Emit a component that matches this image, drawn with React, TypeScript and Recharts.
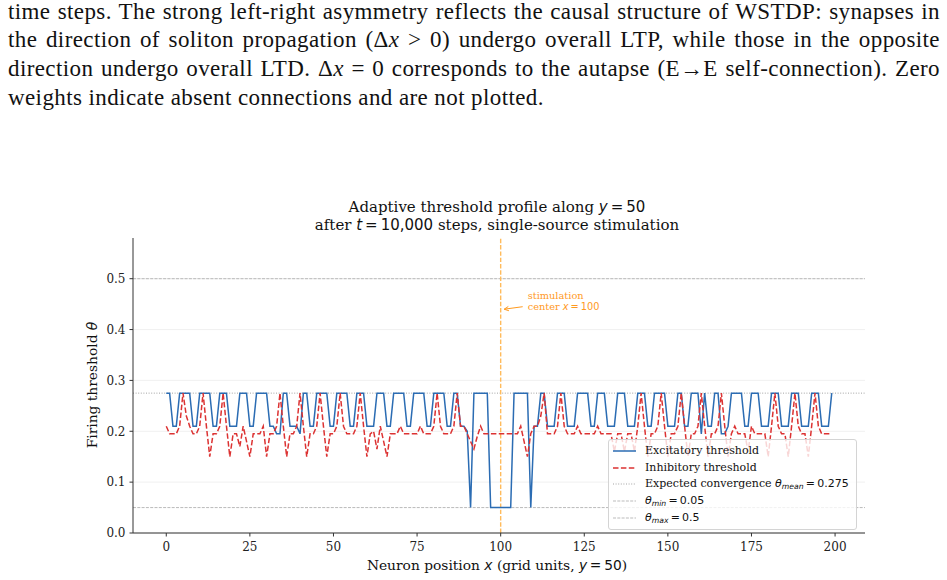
import React from 'react';
import {
  LineChart,
  Line,
  XAxis,
  YAxis,
  CartesianGrid,
  ReferenceLine,
  ReferenceDot,
} from 'recharts';

// Grid positions along the row y = 50
const positions: number[] = Array.from({ length: 200 }, (_, i) => i);

// Excitatory threshold per neuron
const excitatory: number[] = [
  0.275, 0.275, 0.21, 0.21, 0.275, 0.275, 0.275, 0.275, 0.21, 0.21,
  0.275, 0.275, 0.275, 0.275, 0.21, 0.21, 0.275, 0.275, 0.275, 0.21,
  0.21, 0.21, 0.275, 0.275, 0.275, 0.21, 0.21, 0.275, 0.275, 0.275,
  0.275, 0.21, 0.21, 0.195, 0.195, 0.275, 0.275, 0.21, 0.21, 0.21,
  0.195, 0.275, 0.275, 0.21, 0.21, 0.275, 0.275, 0.275, 0.275, 0.21,
  0.21, 0.275, 0.275, 0.275, 0.275, 0.21, 0.21, 0.275, 0.275, 0.275,
  0.21, 0.21, 0.21, 0.275, 0.275, 0.275, 0.21, 0.21, 0.275, 0.275,
  0.275, 0.275, 0.21, 0.21, 0.275, 0.275, 0.275, 0.275, 0.21, 0.21,
  0.275, 0.275, 0.275, 0.275, 0.21, 0.21, 0.275, 0.275, 0.21, 0.21,
  0.2, 0.05, 0.275, 0.275, 0.275, 0.275, 0.275, 0.05, 0.05, 0.05,
  0.05, 0.05, 0.05, 0.05, 0.275, 0.275, 0.275, 0.275, 0.275, 0.05,
  0.21, 0.21, 0.275, 0.275, 0.21, 0.21, 0.21, 0.275, 0.275, 0.275,
  0.21, 0.21, 0.21, 0.275, 0.275, 0.275, 0.275, 0.21, 0.21, 0.275,
  0.275, 0.275, 0.21, 0.21, 0.21, 0.275, 0.275, 0.275, 0.21, 0.21,
  0.21, 0.275, 0.275, 0.275, 0.21, 0.21, 0.275, 0.275, 0.275, 0.275,
  0.21, 0.21, 0.21, 0.275, 0.275, 0.21, 0.21, 0.275, 0.275, 0.275,
  0.195, 0.275, 0.21, 0.21, 0.275, 0.275, 0.195, 0.195, 0.21, 0.275,
  0.275, 0.275, 0.275, 0.21, 0.21, 0.275, 0.275, 0.275, 0.21, 0.21,
  0.21, 0.275, 0.275, 0.275, 0.21, 0.21, 0.21, 0.275, 0.275, 0.275,
  0.21, 0.21, 0.21, 0.275, 0.275, 0.275, 0.21, 0.21, 0.21, 0.275,
];

// Inhibitory threshold per neuron
const inhibitory: number[] = [
  0.21, 0.195, 0.195, 0.195, 0.21, 0.275, 0.23, 0.21, 0.195, 0.195,
  0.21, 0.275, 0.21, 0.15, 0.195, 0.195, 0.21, 0.275, 0.21, 0.15,
  0.195, 0.195, 0.17, 0.21, 0.18, 0.15, 0.195, 0.195, 0.195, 0.21,
  0.15, 0.195, 0.195, 0.21, 0.275, 0.21, 0.15, 0.195, 0.195, 0.21,
  0.275, 0.21, 0.15, 0.195, 0.195, 0.21, 0.275, 0.21, 0.15, 0.195,
  0.195, 0.21, 0.275, 0.21, 0.195, 0.195, 0.195, 0.21, 0.275, 0.21,
  0.15, 0.195, 0.2, 0.165, 0.21, 0.18, 0.15, 0.195, 0.195, 0.195,
  0.21, 0.195, 0.195, 0.195, 0.195, 0.195, 0.21, 0.195, 0.195, 0.195,
  0.21, 0.275, 0.21, 0.195, 0.195, 0.195, 0.21, 0.275, 0.21, 0.21,
  0.195, 0.18, 0.165, 0.19, 0.21, 0.195, 0.195, 0.195, 0.195, 0.195,
  0.195, 0.195, 0.195, 0.195, 0.195, 0.195, 0.21, 0.18, 0.15, 0.195,
  0.21, 0.21, 0.23, 0.275, 0.195, 0.195, 0.195, 0.21, 0.275, 0.21,
  0.195, 0.195, 0.195, 0.21, 0.195, 0.195, 0.195, 0.195, 0.195, 0.21,
  0.195, 0.195, 0.195, 0.195, 0.16, 0.195, 0.195, 0.16, 0.195, 0.195,
  0.16, 0.21, 0.275, 0.21, 0.15, 0.195, 0.195, 0.21, 0.275, 0.21,
  0.15, 0.195, 0.195, 0.21, 0.275, 0.21, 0.15, 0.195, 0.195, 0.21,
  0.275, 0.21, 0.15, 0.195, 0.195, 0.21, 0.275, 0.21, 0.15, 0.195,
  0.21, 0.195, 0.195, 0.195, 0.16, 0.21, 0.195, 0.195, 0.195, 0.195,
  0.15, 0.21, 0.275, 0.21, 0.195, 0.195, 0.15, 0.21, 0.275, 0.21,
  0.195, 0.195, 0.15, 0.21, 0.275, 0.21, 0.195, 0.195, 0.195, 0.195,
];

const xTicks: number[] = [0, 25, 50, 75, 100, 125, 150, 175, 200];
const yTicks: number[] = [0, 0.1, 0.2, 0.3, 0.4, 0.5];

const thetaMean = 0.275;
const thetaMin = 0.05;
const thetaMax = 0.5;
const stimCenter = 100;
const noteLevel = 0.44;

const tableData = positions.map((x, i) => ({
  x,
  exc: excitatory[i],
  inh: inhibitory[i],
}));

const BLUE = '#2b6cb3';
const RED = '#dc3232';
const ORANGE = '#ff9a1f';
const SERIF = '"DejaVu Serif", serif';
const MATH = '"DejaVu Sans", sans-serif';
const TEXT_FONT = '"Liberation Serif", serif';

const mathI: React.CSSProperties = { fontFamily: MATH, fontStyle: 'italic' };
const mathR: React.CSSProperties = { fontFamily: MATH };

const StimulusNote = (props: any) => {
  const { cx, cy } = props;
  if (cx == null || cy == null) return null;
  const tipX = cx + 3.5;
  const tipY = cy;
  const tailX = cx + 22;
  const tailY = cy - 2.5;
  const ang = Math.atan2(tailY - tipY, tailX - tipX);
  const hl = 5;
  const spread = 0.45;
  const h1x = tipX + hl * Math.cos(ang + spread);
  const h1y = tipY + hl * Math.sin(ang + spread);
  const h2x = tipX + hl * Math.cos(ang - spread);
  const h2y = tipY + hl * Math.sin(ang - spread);
  return (
    <g>
      <line x1={tailX} y1={tailY} x2={tipX} y2={tipY} stroke={ORANGE} strokeWidth={1} />
      <polyline
        points={`${h1x},${h1y} ${tipX},${tipY} ${h2x},${h2y}`}
        fill="none"
        stroke={ORANGE}
        strokeWidth={1}
      />
      <text x={cx + 27} y={cy - 10} fontSize={9.8} fill={ORANGE} fontFamily={SERIF}>
        stimulation
      </text>
      <text x={cx + 27} y={cy + 1} fontSize={9.8} fill={ORANGE} fontFamily={SERIF}>
        center{' '}
        <tspan fontFamily={MATH} fontStyle="italic">x</tspan>
        <tspan fontFamily={MATH}>{'\u2009=\u2009100'}</tspan>
      </text>
    </g>
  );
};

const subStyle: React.CSSProperties = { ...mathI, fontSize: '0.7em', verticalAlign: '-0.25em' };

const legendRows: { label: React.ReactNode; stroke: string; width: number; dash?: string }[] = [
  { label: 'Excitatory threshold', stroke: BLUE, width: 1.5 },
  { label: 'Inhibitory threshold', stroke: RED, width: 1.5, dash: '5.5 2.4' },
  {
    label: (
      <>
        Expected convergence <span style={mathI}>θ</span>
        <sub style={subStyle}>mean</sub>
        <span style={mathR}>{'\u2009=\u20090.275'}</span>
      </>
    ),
    stroke: '#999',
    width: 0.9,
    dash: '1 1.6',
  },
  {
    label: (
      <>
        <span style={mathI}>θ</span>
        <sub style={subStyle}>min</sub>
        <span style={mathR}>{'\u2009=\u20090.05'}</span>
      </>
    ),
    stroke: '#aaa',
    width: 0.8,
    dash: '3 1.3',
  },
  {
    label: (
      <>
        <span style={mathI}>θ</span>
        <sub style={subStyle}>max</sub>
        <span style={mathR}>{'\u2009=\u20090.5'}</span>
      </>
    ),
    stroke: '#aaa',
    width: 0.8,
    dash: '3 1.3',
  },
];

const paragraphLines: React.ReactNode[] = [
  'time steps. The strong left-right asymmetry reflects the causal structure of WSTDP: synapses in',
  <>
    the direction of soliton propagation (Δ<i>x</i> &gt; 0) undergo overall LTP, while those in the opposite
  </>,
  <>
    direction undergo overall LTD. Δ<i>x</i> = 0 corresponds to the autapse (E→E self-connection). Zero
  </>,
  'weights indicate absent connections and are not plotted.',
];

export default function App() {
  return (
    <div
      style={{
        position: 'absolute',
        left: 0,
        top: 0,
        width: 947,
        height: 580,
        overflow: 'hidden',
        background: '#fff',
      }}
    >
      {paragraphLines.map((line, i) => {
        const last = i === paragraphLines.length - 1;
        return (
          <div
            key={i}
            style={{
              position: 'absolute',
              left: 8,
              top: -2.2 + 28.6 * i,
              width: 932,
              fontFamily: TEXT_FONT,
              fontSize: 23,
              letterSpacing: 0.4,
              lineHeight: '28.6px',
              color: '#111',
              whiteSpace: last ? 'nowrap' : 'normal',
              textAlign: 'justify',
              textAlignLast: last ? 'left' : 'justify',
            }}
          >
            {line}
          </div>
        );
      })}

      <div style={{ position: 'absolute', left: 0, top: 0 }}>
        <LineChart
          width={947}
          height={580}
          data={tableData}
          margin={{ top: 238, right: 82, bottom: 17, left: 73 }}
        >
          <CartesianGrid
            horizontal
            vertical={false}
            stroke="#ececec"
            strokeWidth={0.8}
            horizontalValues={yTicks}
          />
          <XAxis
            dataKey="x"
            type="number"
            domain={[-9.95, 208.95]}
            ticks={xTicks}
            allowDataOverflow
            height={30}
            stroke="#333"
            tickLine={{ stroke: '#333' }}
            tickSize={3.5}
            tickMargin={6}
            tick={{ fill: '#222', fontSize: 12, fontFamily: SERIF }}
          />
          <YAxis
            type="number"
            domain={[0, 0.58]}
            ticks={yTicks}
            allowDataOverflow
            width={60}
            stroke="#333"
            tickLine={{ stroke: '#333' }}
            tickSize={3.5}
            tickMargin={4}
            tickFormatter={(v: number) => v.toFixed(1)}
            tick={{ fill: '#222', fontSize: 12, fontFamily: SERIF }}
          />
          <ReferenceLine
            y={thetaMax}
            stroke="#aaa"
            strokeWidth={0.8}
            strokeDasharray="3 1.3"
          />
          <ReferenceLine
            y={thetaMin}
            stroke="#aaa"
            strokeWidth={0.8}
            strokeDasharray="3 1.3"
          />
          <ReferenceLine
            y={thetaMean}
            stroke="#999"
            strokeWidth={0.9}
            strokeDasharray="1 1.6"
          />
          <ReferenceLine
            x={stimCenter}
            stroke="#ffbb5c"
            strokeWidth={1.4}
            strokeDasharray="4.4 1.9"
          />
          <Line
            dataKey="exc"
            type="linear"
            stroke={BLUE}
            strokeWidth={1.5}
            dot={false}
            activeDot={false}
            isAnimationActive={false}
          />
          <Line
            dataKey="inh"
            type="linear"
            stroke={RED}
            strokeWidth={1.5}
            strokeDasharray="5.5 2.4"
            dot={false}
            activeDot={false}
            isAnimationActive={false}
          />
          <ReferenceDot
            x={stimCenter}
            y={noteLevel}
            r={0}
            ifOverflow="visible"
            shape={StimulusNote}
          />
        </LineChart>
      </div>

      {/* Title */}
      <div
        style={{
          position: 'absolute',
          left: 197,
          top: 198,
          width: 600,
          textAlign: 'center',
          fontFamily: SERIF,
          fontSize: 15,
          lineHeight: '18px',
          color: '#111',
        }}
      >
        <div>
          Adaptive threshold profile along <span style={mathI}>y</span>
          <span style={mathR}>{'\u2009=\u200950'}</span>
        </div>
        <div>
          after <span style={mathI}>t</span>
          <span style={mathR}>{'\u2009=\u200910,000'}</span> steps, single-source stimulation
        </div>
      </div>

      {/* Axis labels */}
      <div
        style={{
          position: 'absolute',
          left: 197,
          top: 556,
          width: 600,
          textAlign: 'center',
          fontFamily: SERIF,
          fontSize: 13.8,
          lineHeight: '18px',
          color: '#111',
        }}
      >
        Neuron position <span style={mathI}>x</span> (grid units, <span style={mathI}>y</span>
        <span style={mathR}>{'\u2009=\u200950'}</span>)
      </div>
      <div
        style={{
          position: 'absolute',
          left: 92 - 150,
          top: 385 - 9,
          width: 300,
          textAlign: 'center',
          fontFamily: SERIF,
          fontSize: 13.8,
          lineHeight: '18px',
          color: '#111',
          transform: 'rotate(-90deg)',
          transformOrigin: '150px 9px',
        }}
      >
        Firing threshold <span style={mathI}>θ</span>
      </div>

      {/* Legend */}
      <div
        style={{
          position: 'absolute',
          left: 608,
          top: 439,
          width: 249,
          height: 91,
          boxSizing: 'border-box',
          border: '1px solid #d4d4d4',
          borderRadius: 3,
          background: 'rgba(255,255,255,0.8)',
          paddingTop: 2.5,
          fontFamily: SERIF,
          fontSize: 11,
          color: '#111',
        }}
      >
        {legendRows.map((row, i) => (
          <div
            key={i}
            style={{ height: 16.7, display: 'flex', alignItems: 'center', whiteSpace: 'nowrap' }}
          >
            <svg width={36} height={10} style={{ flex: '0 0 36px' }}>
              <line
                x1={4}
                y1={5}
                x2={27}
                y2={5}
                stroke={row.stroke}
                strokeWidth={row.width}
                strokeDasharray={row.dash}
              />
            </svg>
            <span>{row.label}</span>
          </div>
        ))}
      </div>
    </div>
  );
}
